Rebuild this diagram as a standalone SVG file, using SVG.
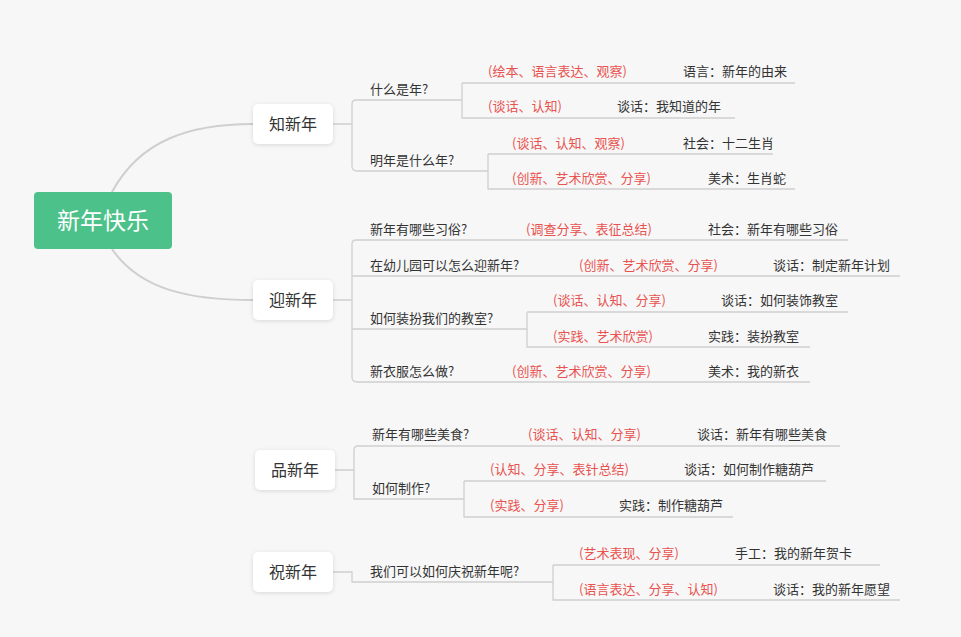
<svg xmlns="http://www.w3.org/2000/svg" width="961" height="637" viewBox="0 0 961 637">
<style>
text{font-family:"Noto Sans CJK SC","Liberation Sans",sans-serif;font-size:13px;fill:#333}
.m{fill:#e8524f}
.t1{font-size:16px;text-anchor:middle;fill:#333}
.root{font-size:23px;fill:#fff;text-anchor:middle}
.l{fill:none;stroke:#d0d0d0;stroke-width:1.3}
.c{fill:none;stroke:#cfcfcf;stroke-width:2}
.box{fill:#fff;filter:drop-shadow(0 1px 2px rgba(0,0,0,0.12))}
</style>
<rect width="961" height="637" fill="#f7f7f7"/>
<g id="connectors">
<path class="c" d="M112,192 C140,140 190,124 253,124"/>
<path class="c" d="M112,249 C140,290 190,300 253,300"/>
<path class="l" d="M333,124 H352 M356,100 H462 M352,104 V166 Q352,171 357,171 H488 M352,104 Q352,100 356,100"/>
<path class="l" d="M462,83 H795 M462,83 V118 H735"/>
<path class="l" d="M488,154 H773 M488,154 V189 H795"/>
<path class="l" d="M333,300 H352 M356,240 H848 M352,244 Q352,240 356,240 M352,244 V377 Q352,382 357,382 H810 M352,276 H900 M352,329 H527"/>
<path class="l" d="M527,312 H848 M527,312 V347 H810"/>
<path class="l" d="M335,470 H354 M358,446 H840 M354,450 Q354,446 358,446 M354,450 V499 H464"/>
<path class="l" d="M464,481 H826 M464,481 V517 H733"/>
<path class="l" d="M333,572 H352 V582 H553"/>
<path class="l" d="M553,565 H880 M553,565 V600 H900"/>
</g>
<g id="root"><rect x="34" y="192" width="138" height="57" rx="4" fill="#4dc18a"/><text class="root" x="103" y="229">新年快乐</text></g>
<g id="n1"><rect class="box" x="253" y="104" width="80" height="40" rx="5"/><text class="t1" x="293" y="130">知新年</text></g>
<g id="n2"><rect class="box" x="253" y="280" width="80" height="40" rx="5"/><text class="t1" x="293" y="306">迎新年</text></g>
<g id="n3"><rect class="box" x="255" y="450" width="80" height="40" rx="5"/><text class="t1" x="295" y="476">品新年</text></g>
<g id="n4"><rect class="box" x="253" y="552" width="80" height="40" rx="5"/><text class="t1" x="293" y="578">祝新年</text></g>
<g id="texts">
<text x="370" y="94">什么是年?</text>
<text class="m" x="488" y="76">(绘本、语言表达、观察)</text><text x="683" y="76">语言：新年的由来</text>
<text class="m" x="488" y="111">(谈话、认知)</text><text x="617" y="111">谈话：我知道的年</text>
<text x="370" y="165">明年是什么年?</text>
<text class="m" x="512" y="148">(谈话、认知、观察)</text><text x="683" y="148">社会：十二生肖</text>
<text class="m" x="512" y="183">(创新、艺术欣赏、分享)</text><text x="708" y="183">美术：生肖蛇</text>
<text x="370" y="234">新年有哪些习俗?</text><text class="m" x="526" y="234">(调查分享、表征总结)</text><text x="708" y="234">社会：新年有哪些习俗</text>
<text x="370" y="270">在幼儿园可以怎么迎新年?</text><text class="m" x="579" y="270">(创新、艺术欣赏、分享)</text><text x="773" y="270">谈话：制定新年计划</text>
<text x="370" y="323">如何装扮我们的教室?</text>
<text class="m" x="553" y="305">(谈话、认知、分享)</text><text x="721" y="305">谈话：如何装饰教室</text>
<text class="m" x="553" y="341">(实践、艺术欣赏)</text><text x="708" y="341">实践：装扮教室</text>
<text x="370" y="376">新衣服怎么做?</text><text class="m" x="512" y="376">(创新、艺术欣赏、分享)</text><text x="708" y="376">美术：我的新衣</text>
<text x="372" y="439">新年有哪些美食?</text><text class="m" x="528" y="439">(谈话、认知、分享)</text><text x="697" y="439">谈话：新年有哪些美食</text>
<text x="372" y="493">如何制作?</text>
<text class="m" x="490" y="474">(认知、分享、表针总结)</text><text x="684" y="474">谈话：如何制作糖葫芦</text>
<text class="m" x="490" y="510">(实践、分享)</text><text x="619" y="510">实践：制作糖葫芦</text>
<text x="370" y="576">我们可以如何庆祝新年呢?</text>
<text class="m" x="579" y="558">(艺术表现、分享)</text><text x="735" y="558">手工：我的新年贺卡</text>
<text class="m" x="579" y="594">(语言表达、分享、认知)</text><text x="773" y="594">谈话：我的新年愿望</text>
</g>
</svg>
